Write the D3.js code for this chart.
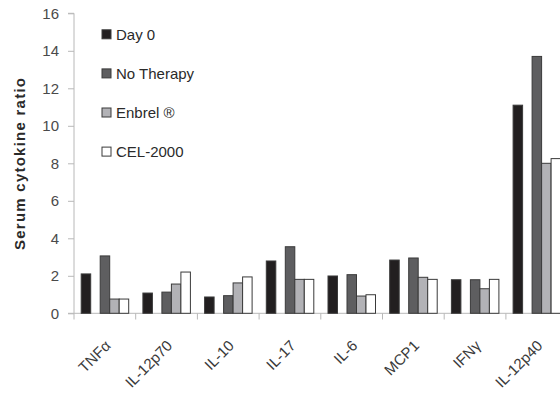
<!DOCTYPE html>
<html><head><meta charset="utf-8">
<script src="https://cdn.jsdelivr.net/npm/d3@7"></script>
<style>body{margin:0;background:#fff;overflow:hidden}svg{display:block}</style>
</head><body><svg id="c" width="560" height="400"></svg>
<script>
const categories = ["TNFα","IL-12p70","IL-10","IL-17","IL-6","MCP1","IFNγ","IL-12p40"];
const seriesNames = ["Day 0","No Therapy","Enbrel ®","CEL-2000"];
const day0      = [2.1, 1.08, 0.87, 2.79, 1.99, 2.84, 1.79, 11.1];
const noTherapy = [3.06, 1.13, 0.94, 3.55, 2.06, 2.95, 1.79, 13.7];
const enbrel    = [0.76, 1.56, 1.62, 1.81, 0.92, 1.92, 1.31, 8.0];
const cel2000   = [0.76, 2.2, 1.94, 1.81, 0.99, 1.81, 1.81, 8.25];
const yTicks = [0,2,4,6,8,10,12,14,16];

const seriesVals = [day0, noTherapy, enbrel, cel2000];
const colors = ["#221f20","#5e5e60","#b2b2b6","#ffffff"];
const slots = [0,2,3,4]; // slot 1 is an empty gap

const svg = d3.select("#c");
const font = "'Liberation Sans', Arial, sans-serif";
const y = d3.scaleLinear().domain([0,16]).range([313.3,13.3]);
const x = d3.scaleBand().domain(categories).range([74,567.6]).paddingInner(0).paddingOuter(0);
const sub = d3.scaleBand().domain([0,1,2,3,4]).range([7.2, x.bandwidth()-7]).padding(0);

// axes
const yAxis = d3.axisLeft(y).tickValues(yTicks).tickSize(6).tickPadding(9).tickFormat(d3.format("d"));
const gy = svg.append("g").attr("transform","translate(74,0)").call(yAxis);
gy.select(".domain").attr("stroke","#b8b8b8").attr("d","M-6,13.3H0V313.3");
gy.selectAll(".tick line").attr("stroke","#b8b8b8");
gy.selectAll(".tick text").attr("fill","#4a4a4a").style("font-family",font).style("font-size","15px");

// x axis line + ticks at band boundaries
const gx = svg.append("g");
gx.append("line").attr("x1",68).attr("x2",567.6).attr("y1",313.3).attr("y2",313.3).attr("stroke","#b8b8b8");
gx.selectAll("line.t").data(categories).enter().append("line")
  .attr("x1",d=>x(d)).attr("x2",d=>x(d)).attr("y1",313.3).attr("y2",319.5).attr("stroke","#b8b8b8");
gx.selectAll("text").data(categories).enter().append("text")
  .attr("transform",d=>`translate(${x(d)+x.bandwidth()/2+3},${343}) rotate(-45)`)
  .attr("text-anchor","end").attr("dy","0.35em")
  .attr("fill","#3a3a3a").style("font-family",font).style("font-size","15px").text(d=>d);

// bars
seriesVals.forEach((vals,si)=>{
  svg.append("g").selectAll("rect").data(vals).enter().append("rect")
    .attr("x",(d,i)=>x(categories[i])+sub(slots[si]))
    .attr("width",sub.bandwidth())
    .attr("y",d=>y(d))
    .attr("height",d=>y(0)-y(d))
    .attr("fill",colors[si]).attr("stroke","#3a3a3a").attr("stroke-width",1);
});

// legend
const lg = svg.append("g");
seriesNames.forEach((n,i)=>{
  const cy = 34.3 + i*39.1;
  lg.append("rect").attr("x",102).attr("y",cy-4.5).attr("width",9).attr("height",9)
    .attr("fill",colors[i]).attr("stroke","#3a3a3a").attr("stroke-width",1);
  lg.append("text").attr("x",116).attr("y",cy).attr("dy","0.36em")
    .attr("fill","#2a2a2a").style("font-family",font).style("font-size","15px").text(n);
});

// y title
svg.append("text").attr("transform","translate(20,164) rotate(-90)")
  .attr("text-anchor","middle").attr("dy","0.35em")
  .attr("fill","#2a2a2a").style("font-family",font).style("font-size","15px").style("font-weight","bold")
  .attr("textLength",172).attr("lengthAdjust","spacing")
  .text("Serum cytokine ratio");
</script></body></html>
